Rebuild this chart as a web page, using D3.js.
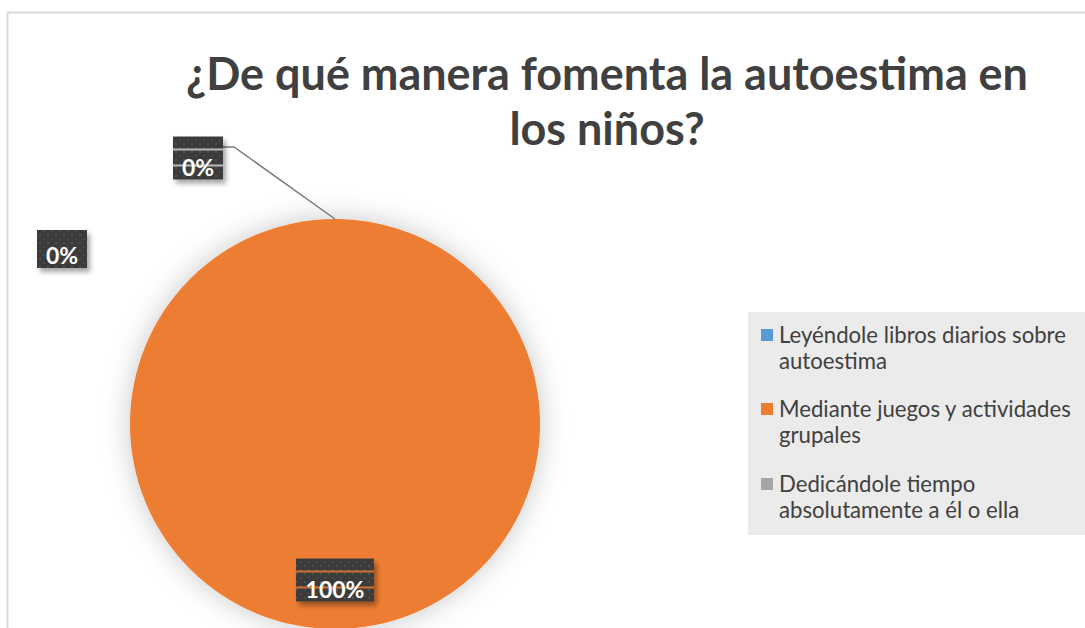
<!DOCTYPE html>
<html lang="es">
<head>
<meta charset="UTF-8">
<title>Autoestima</title>
<style>
  body { margin: 0; background: #fff; }
  svg { display: block; }
  text { font-family: Lato, "Open Sans", sans-serif; }
</style>
</head>
<body>
<svg width="1085" height="628"></svg>
<script src="https://d3js.org/d3.v7.min.js"></script>
<script>
// chart data
var categories = ["Leyéndole libros diarios sobre autoestima",
                  "Mediante juegos y actividades grupales",
                  "Dedicándole tiempo absolutamente a él o ella"];
var values = [0, 100, 0];
var legendLines = [["Leyéndole libros diarios sobre", "autoestima"],
                   ["Mediante juegos y actividades", "grupales"],
                   ["Dedicándole tiempo", "absolutamente a él o ella"]];
var colors = ["#5b9bd5", "#ed7d31", "#a5a5a5"];
var titleLines = ["¿De qué manera fomenta la autoestima en", "los niños?"];

var svg = d3.select("svg");
var defs = svg.append("defs");

// soft glow behind the pie
var glow = defs.append("filter").attr("id", "glow")
    .attr("x", "-30%").attr("y", "-30%").attr("width", "160%").attr("height", "160%");
glow.append("feDropShadow").attr("dx", 0).attr("dy", 0)
    .attr("stdDeviation", 14).attr("flood-color", "#000").attr("flood-opacity", 0.22);

var boxShadow = defs.append("filter").attr("id", "boxShadow")
    .attr("x", "-30%").attr("y", "-30%").attr("width", "160%").attr("height", "160%");
boxShadow.append("feDropShadow").attr("dx", 3).attr("dy", 4)
    .attr("stdDeviation", 2.5).attr("flood-color", "#000").attr("flood-opacity", 0.35);

// dotted dark texture of the data labels
var pat = defs.append("pattern").attr("id", "dots")
    .attr("patternUnits", "userSpaceOnUse").attr("width", 8).attr("height", 8);
pat.append("rect").attr("width", 8).attr("height", 8).attr("fill", "#3b3b3b");
pat.append("circle").attr("cx", 2).attr("cy", 2).attr("r", 1.1).attr("fill", "#555");
pat.append("circle").attr("cx", 6).attr("cy", 6).attr("r", 1.1).attr("fill", "#4a4a4a");

// chart frame
svg.append("rect")
    .attr("x", 7.5).attr("y", 12.5).attr("width", 1100).attr("height", 640)
    .attr("fill", "#fff").attr("stroke", "#d9d9d9").attr("stroke-width", 2);

// title, fitted to the reference width
var title = svg.append("g");
titleLines.forEach(function(t, i) {
  title.append("text")
      .attr("x", 607).attr("y", 90 + i * 55)
      .attr("text-anchor", "middle")
      .attr("font-weight", "bold")
      .attr("font-size", 40)
      .attr("fill", "#404040")
      .text(t);
});
var firstW = title.select("text").node().getComputedTextLength();
var titleSize = 40 * 842 / firstW;
title.selectAll("text").attr("font-size", titleSize);

// pie
var cx = 335, cy = 424, radius = 205;
var pie = d3.pie().sort(null).value(function(d) { return d; });
var arcs = pie(values);
var arc = d3.arc().innerRadius(0).outerRadius(radius);

var pieG = svg.append("g").attr("transform", "translate(" + cx + "," + cy + ")");
pieG.append("g").attr("filter", "url(#glow)")
  .selectAll("path")
  .data(arcs)
  .enter().append("path")
    .attr("d", arc)
    .attr("fill", function(d, i) { return colors[i]; });

// label placement (box centre relative to pie centre, moved by hand in the original)
var labelPos = [[-137, -266], [0, 156], [-273, -175]];
var fmt = d3.format(".0%");
var total = d3.sum(values);

// leader line for the first label
var edge = [Math.sin(arcs[0].startAngle) * radius, -Math.cos(arcs[0].startAngle) * radius];
pieG.append("polyline")
    .attr("points", [[labelPos[0][0] + 25, labelPos[0][1] - 11],
                     [labelPos[0][0] + 36, labelPos[0][1] - 11],
                     edge].map(function(p) { return p.join(","); }).join(" "))
    .attr("fill", "none")
    .attr("stroke", "#7a7a7a")
    .attr("stroke-width", 1.5);

var lbl = pieG.selectAll("g.lbl")
  .data(arcs)
  .enter().append("g")
    .attr("class", "lbl")
    .attr("transform", function(d, i) { return "translate(" + labelPos[i][0] + "," + labelPos[i][1] + ")"; });

lbl.each(function(d, i) {
  var g = d3.select(this);
  var txt = fmt(d.data / total);
  var w = txt.length > 2 ? 78 : 50;
  var h = i === 2 ? 38 : 43;
  g.append("rect")
      .attr("x", -w / 2).attr("y", -h / 2)
      .attr("width", w).attr("height", h)
      .attr("fill", "url(#dots)")
      .attr("filter", "url(#boxShadow)");
  if (i !== 2) {
    // thin see-through stripes of the label fill
    var stripeCol = i === 1 ? colors[1] : "#d0d0d0";
    [-h / 2 + 12, -h / 2 + 28].forEach(function(y) {
      g.append("rect")
          .attr("x", -w / 2).attr("y", y)
          .attr("width", w).attr("height", 2)
          .attr("fill", stripeCol).attr("opacity", 0.85);
    });
  }
  g.append("text")
      .attr("x", 0).attr("y", h / 2 - 4)
      .attr("text-anchor", "middle")
      .attr("font-weight", "bold")
      .attr("font-size", 23)
      .attr("fill", "#fff")
      .text(txt);
});

// legend
var legend = svg.append("g");
legend.append("rect")
    .attr("x", 748).attr("y", 312).attr("width", 340).attr("height", 223)
    .attr("fill", "#ebebeb");

var legendY = [343, 417, 492];
categories.forEach(function(c, i) {
  var item = legend.append("g");
  item.append("rect")
      .attr("x", 761).attr("y", legendY[i] - 14)
      .attr("width", 12).attr("height", 12)
      .attr("fill", colors[i]);
  legendLines[i].forEach(function(line, j) {
    item.append("text")
        .attr("class", "legtxt")
        .attr("x", 779).attr("y", legendY[i] + j * 26)
        .attr("font-size", 19)
        .attr("fill", "#404040")
        .text(line);
  });
});
// fit legend text to the reference width of its first line
var legW = legend.select("text.legtxt").node().getComputedTextLength();
legend.selectAll("text.legtxt").attr("font-size", 19 * 287 / legW);
</script>
</body>
</html>
